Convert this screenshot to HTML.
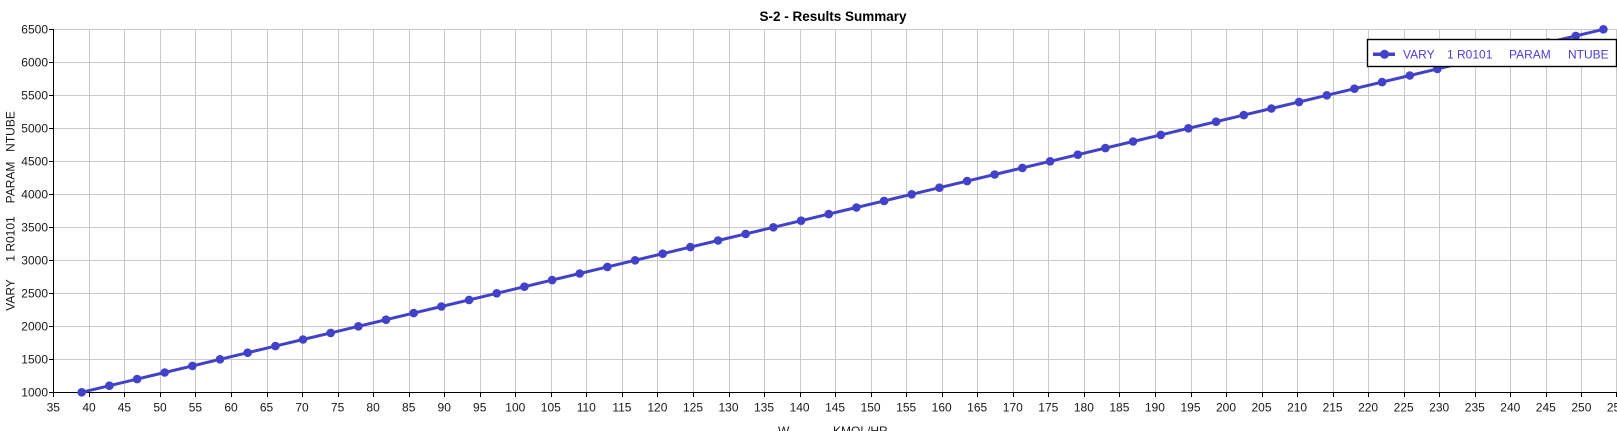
<!DOCTYPE html>
<html><head><meta charset="utf-8"><style>
html,body{margin:0;padding:0;background:#fff;}
svg{display:block;}
text{font-family:"Liberation Sans",sans-serif;}
</style></head><body>
<svg width="1617" height="431" viewBox="0 0 1617 431" xmlns="http://www.w3.org/2000/svg">
<rect width="1617" height="431" fill="#fff"/>
<g stroke="#cacaca" stroke-width="1" shape-rendering="crispEdges">
<line x1="53" y1="29.5" x2="1617" y2="29.5"/>
<line x1="53" y1="62.5" x2="1617" y2="62.5"/>
<line x1="53" y1="95.5" x2="1617" y2="95.5"/>
<line x1="53" y1="128.5" x2="1617" y2="128.5"/>
<line x1="53" y1="161.5" x2="1617" y2="161.5"/>
<line x1="53" y1="194.5" x2="1617" y2="194.5"/>
<line x1="53" y1="227.5" x2="1617" y2="227.5"/>
<line x1="53" y1="260.5" x2="1617" y2="260.5"/>
<line x1="53" y1="293.5" x2="1617" y2="293.5"/>
<line x1="53" y1="326.5" x2="1617" y2="326.5"/>
<line x1="53" y1="359.5" x2="1617" y2="359.5"/>
<path d="M89.5 29V392M124.5 29V392M160.5 29V392M195.5 29V392M231.5 29V392M267.5 29V392M302.5 29V392M338.5 29V392M373.5 29V392M409.5 29V392M444.5 29V392M480.5 29V392M515.5 29V392M551.5 29V392M586.5 29V392M622.5 29V392M657.5 29V392M693.5 29V392M729.5 29V392M764.5 29V392M800.5 29V392M835.5 29V392M871.5 29V392M906.5 29V392M942.5 29V392M977.5 29V392M1013.5 29V392M1048.5 29V392M1084.5 29V392M1119.5 29V392M1155.5 29V392M1191.5 29V392M1226.5 29V392M1262.5 29V392M1297.5 29V392M1333.5 29V392M1368.5 29V392M1404.5 29V392M1439.5 29V392M1475.5 29V392M1510.5 29V392M1546.5 29V392M1581.5 29V392M1616.5 29V392" fill="none"/>
</g>
<g stroke="#000" stroke-width="1.3" shape-rendering="crispEdges" fill="none">
<path d="M53.5 29V393M53 392.5H1617"/>
<path d="M49 29.5H53M49 62.5H53M49 95.5H53M49 128.5H53M49 161.5H53M49 194.5H53M49 227.5H53M49 260.5H53M49 293.5H53M49 326.5H53M49 359.5H53M49 392.5H53"/>
<path d="M53.5 392V397M89.5 392V397M124.5 392V397M160.5 392V397M195.5 392V397M231.5 392V397M267.5 392V397M302.5 392V397M338.5 392V397M373.5 392V397M409.5 392V397M444.5 392V397M480.5 392V397M515.5 392V397M551.5 392V397M586.5 392V397M622.5 392V397M657.5 392V397M693.5 392V397M729.5 392V397M764.5 392V397M800.5 392V397M835.5 392V397M871.5 392V397M906.5 392V397M942.5 392V397M977.5 392V397M1013.5 392V397M1048.5 392V397M1084.5 392V397M1119.5 392V397M1155.5 392V397M1191.5 392V397M1226.5 392V397M1262.5 392V397M1297.5 392V397M1333.5 392V397M1368.5 392V397M1404.5 392V397M1439.5 392V397M1475.5 392V397M1510.5 392V397M1546.5 392V397M1581.5 392V397M1616.5 392V397"/>
</g>
<text x="833" y="21" font-size="13.5" font-weight="bold" text-anchor="middle" fill="#000">S-2 - Results Summary</text>
<g font-size="12" fill="#1a1a1a" text-anchor="end">
<text x="48" y="33.5">6500</text>
<text x="48" y="66.5">6000</text>
<text x="48" y="99.5">5500</text>
<text x="48" y="132.5">5000</text>
<text x="48" y="165.5">4500</text>
<text x="48" y="198.5">4000</text>
<text x="48" y="231.5">3500</text>
<text x="48" y="264.5">3000</text>
<text x="48" y="297.5">2500</text>
<text x="48" y="330.5">2000</text>
<text x="48" y="363.5">1500</text>
<text x="48" y="396.5">1000</text>
</g>
<g font-size="12" fill="#1a1a1a" text-anchor="middle">
<text x="53.3" y="411.5">35</text><text x="89" y="411.5">40</text><text x="124.4" y="411.5">45</text><text x="160" y="411.5">50</text><text x="195.4" y="411.5">55</text><text x="231" y="411.5">60</text><text x="266.5" y="411.5">65</text><text x="302" y="411.5">70</text><text x="337.6" y="411.5">75</text><text x="373.1" y="411.5">80</text><text x="408.7" y="411.5">85</text><text x="444.2" y="411.5">90</text><text x="479.7" y="411.5">95</text><text x="515.3" y="411.5">100</text><text x="550.8" y="411.5">105</text><text x="586.3" y="411.5">110</text><text x="621.9" y="411.5">115</text><text x="657.4" y="411.5">120</text><text x="693" y="411.5">125</text><text x="728.5" y="411.5">130</text><text x="764" y="411.5">135</text><text x="799.6" y="411.5">140</text><text x="835.1" y="411.5">145</text><text x="870.6" y="411.5">150</text><text x="906.2" y="411.5">155</text><text x="941.7" y="411.5">160</text><text x="977.2" y="411.5">165</text><text x="1012.8" y="411.5">170</text><text x="1048.3" y="411.5">175</text><text x="1083.9" y="411.5">180</text><text x="1119.4" y="411.5">185</text><text x="1154.9" y="411.5">190</text><text x="1190.5" y="411.5">195</text><text x="1226" y="411.5">200</text><text x="1261.5" y="411.5">205</text><text x="1297.1" y="411.5">210</text><text x="1332.6" y="411.5">215</text><text x="1368.1" y="411.5">220</text><text x="1403.7" y="411.5">225</text><text x="1439.2" y="411.5">230</text><text x="1474.8" y="411.5">235</text><text x="1510.3" y="411.5">240</text><text x="1545.8" y="411.5">245</text><text x="1581.4" y="411.5">250</text><text x="1616.9" y="411.5">255</text>
</g>
<g font-size="12" fill="#1a1a1a">
<text x="778" y="435">W</text>
<text x="833" y="435">KMOL/HR</text>
</g>
<g font-size="12" fill="#1a1a1a" text-anchor="middle">
<text transform="translate(14.5,295) rotate(-90)">VARY</text>
<text transform="translate(14.5,239) rotate(-90)">1 R0101</text>
<text transform="translate(14.5,182.5) rotate(-90)">PARAM</text>
<text transform="translate(14.5,131.5) rotate(-90)">NTUBE</text>
</g>
<polyline fill="none" stroke="#4141c9" stroke-width="3" stroke-linejoin="round" points="81.7,392.3 109.4,385.7 137.1,379.1 164.7,372.5 192.4,365.9 220.0,359.3 247.7,352.7 275.4,346.1 303.0,339.5 330.7,332.9 358.4,326.3 386.0,319.7 413.7,313.1 441.4,306.5 469.1,299.9 496.7,293.3 524.4,286.7 552.1,280.1 579.7,273.5 607.4,266.9 635.1,260.3 662.7,253.7 690.4,247.1 718.1,240.5 745.7,233.9 773.4,227.3 801.1,220.7 828.7,214.1 856.4,207.5 884.1,200.9 911.7,194.3 939.4,187.7 967.1,181.1 994.7,174.5 1022.4,167.9 1050.1,161.3 1077.8,154.7 1105.4,148.1 1133.1,141.5 1160.8,134.9 1188.4,128.3 1216.1,121.7 1243.8,115.1 1271.4,108.5 1299.1,101.9 1326.8,95.3 1354.4,88.7 1382.1,82.1 1409.8,75.5 1437.4,68.9 1465.1,62.3 1492.8,55.7 1520.4,49.1 1548.1,42.5 1575.8,35.9 1603.4,29.3"/>
<g fill="#4141c9">
<circle cx="81.7" cy="392.3" r="4.3"/><circle cx="109.4" cy="385.7" r="4.3"/><circle cx="137.1" cy="379.1" r="4.3"/><circle cx="164.7" cy="372.5" r="4.3"/><circle cx="192.4" cy="365.9" r="4.3"/><circle cx="220.0" cy="359.3" r="4.3"/><circle cx="247.7" cy="352.7" r="4.3"/><circle cx="275.4" cy="346.1" r="4.3"/><circle cx="303.0" cy="339.5" r="4.3"/><circle cx="330.7" cy="332.9" r="4.3"/><circle cx="358.4" cy="326.3" r="4.3"/><circle cx="386.0" cy="319.7" r="4.3"/><circle cx="413.7" cy="313.1" r="4.3"/><circle cx="441.4" cy="306.5" r="4.3"/><circle cx="469.1" cy="299.9" r="4.3"/><circle cx="496.7" cy="293.3" r="4.3"/><circle cx="524.4" cy="286.7" r="4.3"/><circle cx="552.1" cy="280.1" r="4.3"/><circle cx="579.7" cy="273.5" r="4.3"/><circle cx="607.4" cy="266.9" r="4.3"/><circle cx="635.1" cy="260.3" r="4.3"/><circle cx="662.7" cy="253.7" r="4.3"/><circle cx="690.4" cy="247.1" r="4.3"/><circle cx="718.1" cy="240.5" r="4.3"/><circle cx="745.7" cy="233.9" r="4.3"/><circle cx="773.4" cy="227.3" r="4.3"/><circle cx="801.1" cy="220.7" r="4.3"/><circle cx="828.7" cy="214.1" r="4.3"/><circle cx="856.4" cy="207.5" r="4.3"/><circle cx="884.1" cy="200.9" r="4.3"/><circle cx="911.7" cy="194.3" r="4.3"/><circle cx="939.4" cy="187.7" r="4.3"/><circle cx="967.1" cy="181.1" r="4.3"/><circle cx="994.7" cy="174.5" r="4.3"/><circle cx="1022.4" cy="167.9" r="4.3"/><circle cx="1050.1" cy="161.3" r="4.3"/><circle cx="1077.8" cy="154.7" r="4.3"/><circle cx="1105.4" cy="148.1" r="4.3"/><circle cx="1133.1" cy="141.5" r="4.3"/><circle cx="1160.8" cy="134.9" r="4.3"/><circle cx="1188.4" cy="128.3" r="4.3"/><circle cx="1216.1" cy="121.7" r="4.3"/><circle cx="1243.8" cy="115.1" r="4.3"/><circle cx="1271.4" cy="108.5" r="4.3"/><circle cx="1299.1" cy="101.9" r="4.3"/><circle cx="1326.8" cy="95.3" r="4.3"/><circle cx="1354.4" cy="88.7" r="4.3"/><circle cx="1382.1" cy="82.1" r="4.3"/><circle cx="1409.8" cy="75.5" r="4.3"/><circle cx="1437.4" cy="68.9" r="4.3"/><circle cx="1465.1" cy="62.3" r="4.3"/><circle cx="1492.8" cy="55.7" r="4.3"/><circle cx="1520.4" cy="49.1" r="4.3"/><circle cx="1548.1" cy="42.5" r="4.3"/><circle cx="1575.8" cy="35.9" r="4.3"/><circle cx="1603.4" cy="29.3" r="4.3"/>
</g>
<rect x="1367.5" y="39.5" width="249" height="27" fill="#fff" stroke="#000" stroke-width="1.4"/>
<line x1="1373" y1="54.3" x2="1395" y2="54.3" stroke="#4141c9" stroke-width="3.5"/>
<circle cx="1384.5" cy="54.3" r="4.5" fill="#4141c9"/>
<g font-size="12" fill="#4b3fd4">
<text x="1403" y="58.5">VARY</text>
<text x="1447" y="58.5">1 R0101</text>
<text x="1509" y="58.5">PARAM</text>
<text x="1568" y="58.5">NTUBE</text>
</g>
</svg>
</body></html>
